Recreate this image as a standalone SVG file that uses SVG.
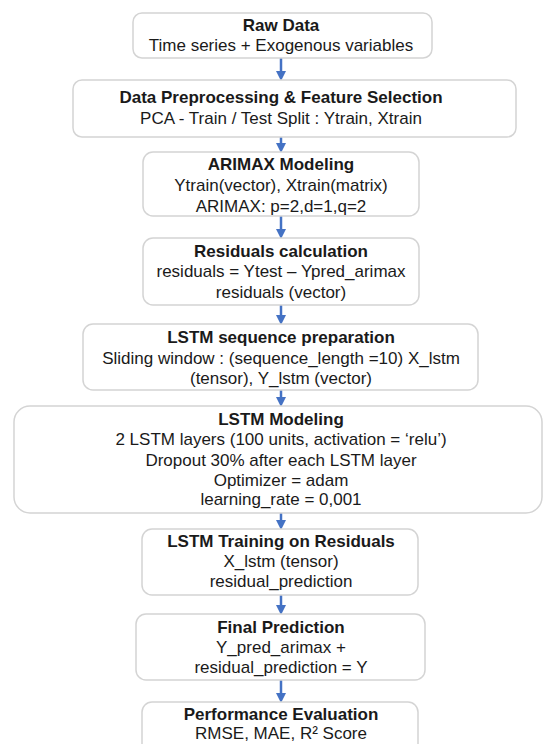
<svg xmlns="http://www.w3.org/2000/svg" width="543" height="744" viewBox="0 0 543 744">
<defs>
<style>
.box{fill:#ffffff;stroke:#d4d4d4;stroke-width:1.5}
.t{font-family:"Liberation Sans",Arial,sans-serif;font-size:17px;fill:#1a1a1a;text-anchor:middle}
.b{font-weight:bold}
.arr{stroke:#4472c4;stroke-width:2.5;fill:none;marker-end:url(#ah)}
</style>
<marker id="ah" markerWidth="4" markerHeight="4" refX="2.4" refY="2" orient="auto" markerUnits="strokeWidth">
<path d="M0,0 L4,2 L0,4 Z" fill="#4472c4"/>
</marker>
</defs>
<rect width="543" height="744" fill="#ffffff"/>
<g id="connectors">
<line class="arr" x1="281" y1="58" x2="281" y2="77"/>
<line class="arr" x1="281" y1="137" x2="281" y2="149"/>
<line class="arr" x1="281" y1="216" x2="281" y2="235"/>
<line class="arr" x1="281" y1="305" x2="281" y2="321"/>
<line class="arr" x1="281" y1="390" x2="281" y2="403"/>
<line class="arr" x1="281" y1="513" x2="281" y2="526"/>
<line class="arr" x1="281" y1="595" x2="281" y2="611"/>
<line class="arr" x1="281" y1="680" x2="281" y2="699"/>
</g>
<g id="raw-data">
<rect class="box" x="133" y="13" width="299" height="45" rx="9"/>
<text class="t b" x="281" y="31">Raw Data</text>
<text class="t" x="281" y="51">Time series + Exogenous variables</text>
</g>
<g id="preprocessing">
<rect class="box" x="73" y="80" width="443" height="57" rx="9"/>
<text class="t b" x="281" y="103">Data Preprocessing &amp; Feature Selection</text>
<text class="t" x="281" y="124">PCA - Train / Test Split : Ytrain, Xtrain</text>
</g>
<g id="arimax">
<rect class="box" x="143" y="152" width="276" height="64" rx="10"/>
<text class="t b" x="281" y="170">ARIMAX Modeling</text>
<text class="t" x="281" y="191">Ytrain(vector), Xtrain(matrix)</text>
<text class="t" x="281" y="212">ARIMAX: p=2,d=1,q=2</text>
</g>
<g id="residuals">
<rect class="box" x="143" y="238" width="276" height="67" rx="10"/>
<text class="t b" x="281" y="257">Residuals calculation</text>
<text class="t" x="281" y="277">residuals = Ytest – Ypred_arimax</text>
<text class="t" x="281" y="298">residuals (vector)</text>
</g>
<g id="lstm-prep">
<rect class="box" x="83" y="324" width="395" height="66" rx="10"/>
<text class="t b" x="281" y="343">LSTM sequence preparation</text>
<text class="t" x="281" y="364">Sliding window : (sequence_length =10) X_lstm</text>
<text class="t" x="281" y="384">(tensor), Y_lstm (vector)</text>
</g>
<g id="lstm-modeling">
<rect class="box" x="14" y="406" width="528" height="107" rx="16"/>
<text class="t b" x="281" y="425">LSTM Modeling</text>
<text class="t" x="281" y="445">2 LSTM layers (100 units, activation = ‘relu’)</text>
<text class="t" x="281" y="466">Dropout 30% after each LSTM layer</text>
<text class="t" x="281" y="486">Optimizer = adam</text>
<text class="t" x="281" y="505">learning_rate = 0,001</text>
</g>
<g id="lstm-training">
<rect class="box" x="142" y="529" width="276" height="66" rx="10"/>
<text class="t b" x="281" y="547">LSTM Training on Residuals</text>
<text class="t" x="281" y="567">X_lstm (tensor)</text>
<text class="t" x="281" y="587">residual_prediction</text>
</g>
<g id="final-prediction">
<rect class="box" x="136" y="614" width="289" height="66" rx="10"/>
<text class="t b" x="281" y="633">Final Prediction</text>
<text class="t" x="281" y="653">Y_pred_arimax +</text>
<text class="t" x="281" y="673">residual_prediction = Y</text>
</g>
<g id="performance">
<rect class="box" x="142" y="702" width="276" height="60" rx="10"/>
<text class="t b" x="281" y="720">Performance Evaluation</text>
<text class="t" x="281" y="739">RMSE, MAE, R² Score</text>
</g>
</svg>
